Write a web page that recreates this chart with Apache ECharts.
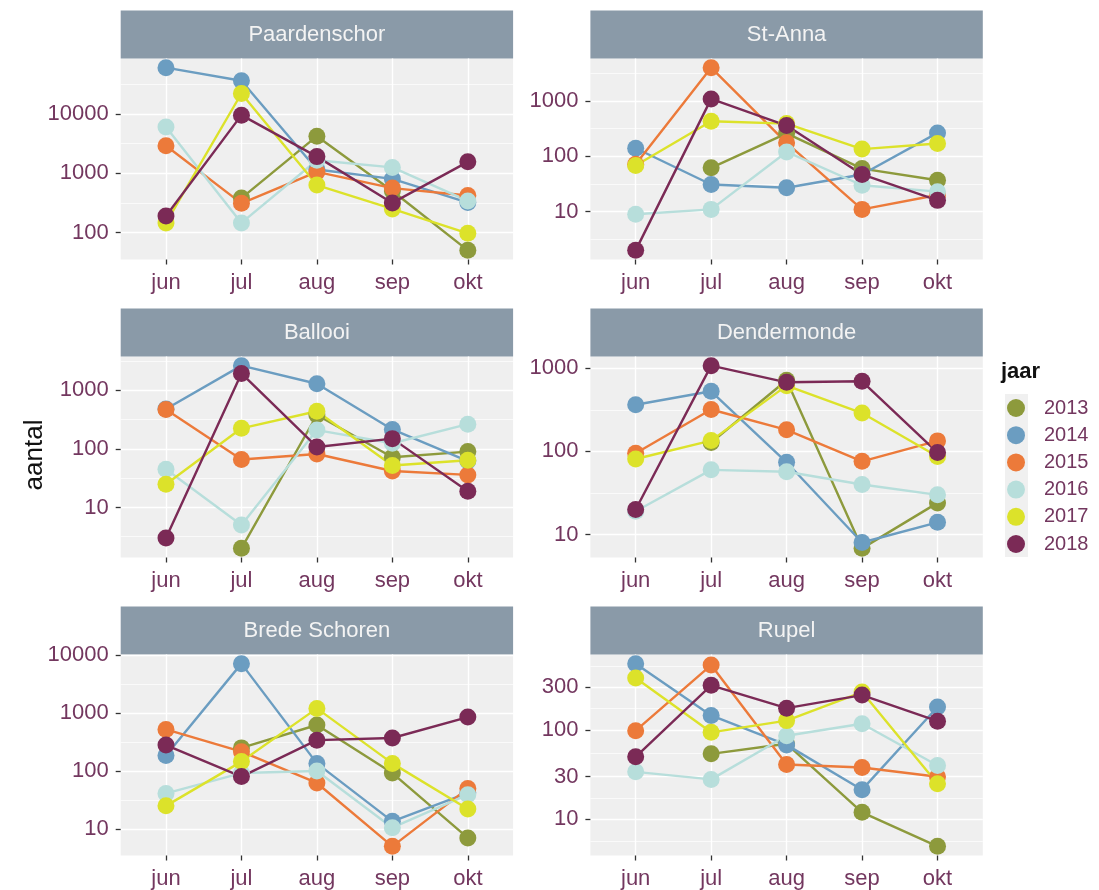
<!DOCTYPE html>
<html>
<head>
<meta charset="utf-8">
<script src="https://cdn.jsdelivr.net/npm/echarts@6/dist/echarts.min.js"></script>
<style>
  html, body { margin: 0; padding: 0; background: #ffffff; }
  #chart { width: 1099px; height: 890px; }
</style>
</head>
<body>
<div id="chart"></div>
<script>
// Monthly counts (aantal) per location, one row per year 2013..2018, columns jun..okt.
// null = no count that month.
const months = ['jun', 'jul', 'aug', 'sep', 'okt'];
const years = ['2013', '2014', '2015', '2016', '2017', '2018'];
const yearColors = ['#8d9a3c', '#6b9dc1', '#ec7a3a', '#b7dedb', '#dce22a', '#7b2a56'];

const locations = ['Paardenschor', 'St-Anna', 'Ballooi', 'Dendermonde', 'Brede Schoren', 'Rupel'];

const paardenschor = [
  [null, 380, 4200, 500, 50],
  [60000, 36000, 1150, 800, 320],
  [2900, 310, 1050, 560, 420],
  [6000, 145, 1650, 1250, 340],
  [145, 22000, 630, 250, 97],
  [190, 9500, 1900, 315, 1550]
];
const stAnna = [
  [null, 62, 260, 60, 37],
  [140, 31, 27, 47, 265],
  [72, 4000, 175, 11, 20],
  [9, 11, 120, 30, 23],
  [68, 430, 390, 135, 170],
  [2, 1090, 360, 47, 16]
];
const ballooi = [
  [null, 2, 380, 72, 90],
  [480, 2650, 1300, 215, 62],
  [470, 66, 82, 42, 36],
  [45, 5, 210, 125, 265],
  [25, 225, 440, 52, 64],
  [3, 1950, 108, 150, 19]
];
const dendermonde = [
  [null, 128, 720, 6.8, 24],
  [365, 530, 74, 8, 14],
  [95, 320, 182, 76, 134],
  [19, 60, 57, 40, 30],
  [81, 135, 620, 290, 87],
  [20, 1080, 680, 700, 97]
];
const bredeSchoren = [
  [null, 250, 620, 92, 7],
  [185, 7100, 135, 13.5, 42],
  [520, 215, 62, 5, 50],
  [41, 92, 100, 10.5, 39],
  [25, 145, 1200, 135, 22],
  [280, 80, 340, 370, 850]
];
const rupel = [
  [null, 54, 70, 12, 5],
  [550, 145, 68, 21.5, 180],
  [98, 530, 41, 38, 30],
  [34, 28, 86, 117, 40],
  [380, 94, 127, 265, 25],
  [50, 315, 175, 245, 125]
];

// y-axis breaks per panel
const ticksPaardenschor = [100, 1000, 10000];
const ticksStAnna = [10, 100, 1000];
const ticksBallooi = [10, 100, 1000];
const ticksDendermonde = [10, 100, 1000];
const ticksBredeSchoren = [10, 100, 1000, 10000];
const ticksRupel = [10, 30, 100, 300];

const panelValues = [paardenschor, stAnna, ballooi, dendermonde, bredeSchoren, rupel];
const panelTicks = [ticksPaardenschor, ticksStAnna, ticksBallooi, ticksDendermonde, ticksBredeSchoren, ticksRupel];

// ---- layout ----
const COL_LEFT = [120.7, 590.4];
const COL_WIDTH = 392.4;
const ROW_TOP = [58.5, 356.5, 654.5];
const ROW_HEIGHT = 201;
const STRIP_H = 48;

const FONT = '"Liberation Sans", Arial, Helvetica, sans-serif';
const LABEL_COLOR = '#73375f';

// log-scale extent with 5% padding on each side (in log space)
function logExtent(rows) {
  const vals = [];
  rows.forEach(r => r.forEach(v => { if (v != null) vals.push(Math.log10(v)); }));
  const lo = Math.min(...vals), hi = Math.max(...vals);
  const pad = (hi - lo) * 0.05;
  return [Math.pow(10, lo - pad), Math.pow(10, hi + pad)];
}

// minor grid lines halfway (in log space) between breaks, extended one step beyond
function minorBreaks(ticks) {
  const l = ticks.map(t => Math.log10(t));
  const d = l[1] - l[0];
  const ext = [l[0] - d].concat(l, [l[l.length - 1] + d]);
  const out = [];
  for (let i = 0; i < ext.length - 1; i++) out.push(Math.pow(10, (ext[i] + ext[i + 1]) / 2));
  return out;
}

const grids = [], xAxes = [], yAxes = [], series = [], graphics = [];

panelValues.forEach((rows, p) => {
  const col = p % 2, row = Math.floor(p / 2);
  const left = COL_LEFT[col], top = ROW_TOP[row];
  const [ymin, ymax] = logExtent(rows);
  const ticks = panelTicks[p];

  grids.push({
    left: left, top: top, width: COL_WIDTH, height: ROW_HEIGHT,
    show: true, backgroundColor: '#efefef', borderWidth: 0
  });

  xAxes.push({
    gridIndex: p, type: 'value', min: -0.6, max: 4.6, position: 'bottom',
    axisLine: { show: false, onZero: false },
    axisTick: { show: true, length: 5, customValues: [0, 1, 2, 3, 4],
      lineStyle: { color: '#333333', width: 1.3 } },
    axisLabel: { customValues: [0, 1, 2, 3, 4], formatter: v => months[Math.round(v)],
      color: LABEL_COLOR, fontSize: 22, fontFamily: FONT, margin: 12 },
    splitLine: { show: true, lineStyle: { color: '#ffffff', width: 1.4 } }
  });

  yAxes.push({
    gridIndex: p, type: 'log', logBase: 10, min: ymin, max: ymax, position: 'left',
    axisLine: { show: false, onZero: false },
    axisTick: { show: true, length: 5, customValues: ticks,
      lineStyle: { color: '#333333', width: 1.3 } },
    axisLabel: { customValues: ticks, formatter: v => String(Math.round(v)),
      color: LABEL_COLOR, fontSize: 22, fontFamily: FONT, margin: 12 },
    splitLine: { show: true, lineStyle: { color: '#ffffff', width: 1.4 } }
  });
  yAxes.push({
    gridIndex: p, type: 'log', logBase: 10, min: ymin, max: ymax, position: 'left',
    axisLine: { show: false, onZero: false },
    axisTick: { show: false, customValues: minorBreaks(ticks) },
    axisLabel: { show: false },
    splitLine: { show: true, lineStyle: { color: '#ffffff', width: 0.7 } }
  });

  rows.forEach((vals, k) => {
    const color = yearColors[k];
    series.push({
      name: years[k], type: 'scatter', xAxisIndex: p, yAxisIndex: 2 * p,
      data: vals.map((v, i) => [i, v]).filter(d => d[1] != null),
      symbol: 'circle', symbolSize: 17, color: color,
      itemStyle: { color: color, opacity: 1 }, z: 3, silent: true
    });
    series.push({
      name: years[k], type: 'line', xAxisIndex: p, yAxisIndex: 2 * p,
      data: vals.map((v, i) => [i, v == null ? '-' : v]),
      showSymbol: false, symbol: 'none', connectNulls: false, color: color,
      lineStyle: { color: color, width: 2.4 }, z: 2, silent: true
    });
  });

  // facet strip
  graphics.push({
    type: 'rect', shape: { x: left, y: top - STRIP_H, width: COL_WIDTH, height: STRIP_H },
    style: { fill: '#8a9aa8' }, silent: true
  });
  graphics.push({
    type: 'text', x: left + COL_WIDTH / 2, y: top - STRIP_H / 2,
    style: { text: locations[p], fill: '#f3f3f3', fontSize: 22, fontFamily: FONT,
      align: 'center', verticalAlign: 'middle' }, silent: true
  });
});

// y-axis title
graphics.push({
  type: 'text', x: 35, y: 455, rotation: Math.PI / 2,
  style: { text: 'aantal', fill: '#111111', fontSize: 26, fontFamily: FONT,
    align: 'center', verticalAlign: 'middle' }, silent: true
});
// legend title and key background
graphics.push({
  type: 'text', x: 1001, y: 372,
  style: { text: 'jaar', fill: '#111111', fontSize: 22, fontWeight: 'bold', fontFamily: FONT,
    align: 'left', verticalAlign: 'middle' }, silent: true
});
graphics.push({
  type: 'rect', z: -1, shape: { x: 1005, y: 394, width: 23, height: 163 },
  style: { fill: '#f0f0f0' }, silent: true
});

const chart = echarts.init(document.getElementById('chart'), null, { renderer: 'canvas' });
chart.setOption({
  animation: false,
  backgroundColor: '#ffffff',
  grid: grids,
  xAxis: xAxes,
  yAxis: yAxes,
  series: series,
  graphic: graphics,
  legend: {
    data: years.map(y => ({ name: y, icon: 'circle' })),
    orient: 'vertical', left: 1002, top: 393,
    itemWidth: 46, itemHeight: 18, itemGap: 7.2, selectedMode: false,
    textStyle: { color: LABEL_COLOR, fontSize: 20, fontFamily: FONT }
  }
});
</script>
</body>
</html>
